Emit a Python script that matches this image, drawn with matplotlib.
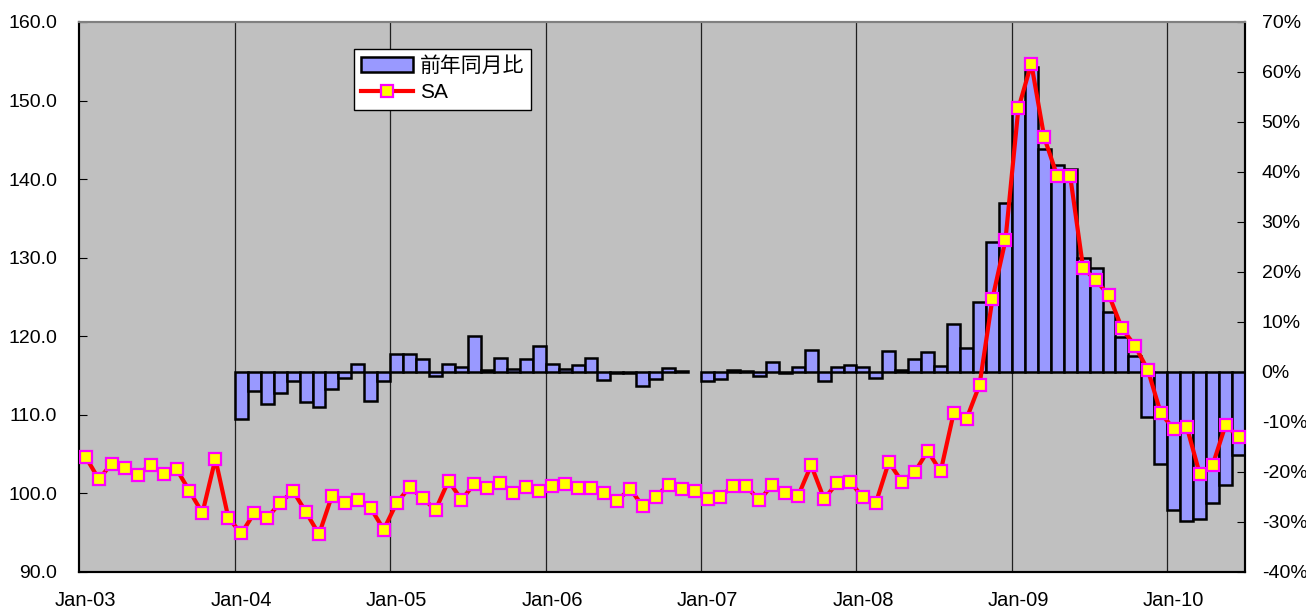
import numpy as np
import matplotlib
matplotlib.use('Agg')
import matplotlib.pyplot as plt
from matplotlib.lines import Line2D
from matplotlib.patches import Patch

plt.rcParams['font.family'] = ['Liberation Sans', 'Noto Sans CJK JP', 'DejaVu Sans']

# ---- data ----
year_labels = ['Jan-03', 'Jan-04', 'Jan-05', 'Jan-06', 'Jan-07', 'Jan-08', 'Jan-09', 'Jan-10']

# SA index, monthly Jan-03 .. Jun-10
sa = [104.6, 101.8, 103.8, 103.2, 102.4, 103.6, 102.5, 103.1, 100.3, 97.5, 104.4, 96.9,
      94.9, 97.5, 96.9, 98.8, 100.3, 97.6, 94.8, 99.7, 98.8, 99.1, 98.1, 95.4,
      98.8, 100.8, 99.4, 97.9, 101.6, 99.2, 101.2, 100.7, 101.3, 100.1, 100.8, 100.3,
      101.0, 101.2, 100.7, 100.7, 100.1, 99.0, 100.6, 98.4, 99.6, 101.1, 100.5, 100.3,
      99.3, 99.6, 101.0, 100.9, 99.1, 101.1, 100.1, 99.7, 103.6, 99.3, 101.3, 101.5,
      99.5, 98.8, 104.0, 101.5, 102.7, 105.4, 102.8, 110.2, 109.5, 113.8, 124.8, 132.2,
      149.0, 154.7, 145.3, 140.4, 140.4, 128.7, 127.1, 125.2, 121.0, 118.8, 115.7, 110.2,
      108.2, 108.5, 102.5, 103.6, 108.7, 107.2]

# Year-on-year change (%), monthly Jan-04 .. Jun-10 (Dec-06 missing)
yoy = [-9.5, -3.9, -6.5, -4.2, -1.8, -6.1, -7.1, -3.5, -1.2, 1.5, -5.8, -1.8,
       3.6, 3.5, 2.5, -0.9, 1.5, 0.9, 7.1, 0.4, 2.7, 0.5, 2.6, 5.1,
       1.6, 0.5, 1.4, 2.7, -1.6, -0.3, -0.2, -2.8, -1.5, 0.8, 0.1, np.nan,
       -1.9, -1.4, 0.4, 0.2, -0.9, 2.0, -0.3, 0.9, 4.3, -1.9, 1.0, 1.4,
       0.9, -1.2, 4.1, 0.4, 2.5, 3.9, 1.2, 9.6, 4.7, 14.0, 26.0, 33.7,
       52.0, 61.0, 44.6, 41.3, 40.5, 22.8, 20.8, 12.0, 7.0, 3.1, -9.1, -18.4,
       -27.6, -29.9, -29.5, -26.2, -22.6, -16.6]

left_ticks = [90, 100, 110, 120, 130, 140, 150, 160]
right_ticks = [-40, -30, -20, -10, 0, 10, 20, 30, 40, 50, 60, 70]

# ---- figure ----
fig = plt.figure(figsize=(13.06, 6.09), dpi=100)
ax = fig.add_axes([0.0608, 0.0608, 0.8925, 0.9031])
ax.set_facecolor('#C0C0C0')

n = len(sa)
x = np.arange(n)
bx = x[n - len(yoy):]

ax.bar(bx, yoy, width=1.0, color='#9999FF', edgecolor='black', linewidth=1.8, zorder=2)
ax.set_ylim(-40, 70)
ax.set_yticks(right_ticks)
ax.set_yticklabels([f'{v}%' for v in right_ticks])
ax.set_xlim(-0.5, n - 0.5)

jan_pos = list(range(0, n, 12))
for p in jan_pos[1:]:
    ax.axvline(p - 0.5, color='#202020', lw=0.9, zorder=1)
ax.set_xticks(jan_pos)
ax.set_xticklabels(year_labels)
ax.tick_params(axis='x', length=0, pad=14, labelsize=14.5)

ax2 = ax.twinx()
ax2.plot(x, sa, color='#FF0000', lw=3, marker='s', ms=8.5,
         mfc='#FFFF00', mec='#FF00FF', mew=1.6, zorder=3)
ax2.set_ylim(90, 160)
ax2.set_yticks(left_ticks)
ax2.set_yticklabels([f'{v:.1f}' for v in left_ticks])
ax2.set_xlim(-0.5, n - 0.5)

# swap sides: bars (%) on the right, SA index on the left
ax.tick_params(axis='y', which='both', left=False, labelleft=False,
               right=True, labelright=True, direction='in', length=6, pad=12, labelsize=14)
ax2.tick_params(axis='y', which='both', left=True, labelleft=True,
                right=False, labelright=False, direction='in', length=6, pad=16, labelsize=14)

for a in (ax, ax2):
    a.spines['top'].set_color('#808080')
    a.spines['top'].set_linewidth(1.5)
    for s in ('left', 'right', 'bottom'):
        a.spines[s].set_color('black')
        a.spines[s].set_linewidth(1.5)

handles = [Patch(facecolor='#9999FF', edgecolor='black', linewidth=1.8),
           Line2D([], [], color='#FF0000', lw=3, marker='s', ms=8.5,
                  mfc='#FFFF00', mec='#FF00FF', mew=1.6)]
leg = ax2.legend(handles, ['前年同月比', 'SA'], loc='upper left',
                 bbox_to_anchor=(0.2356, 0.951), borderaxespad=0,
                 fontsize=15, frameon=True, fancybox=False, framealpha=1,
                 edgecolor='black', handlelength=2.5, handletextpad=0.3,
                 labelspacing=0.35, borderpad=0.35)
leg.get_frame().set_linewidth(1.0)

fig.savefig('out.png', dpi=100)
